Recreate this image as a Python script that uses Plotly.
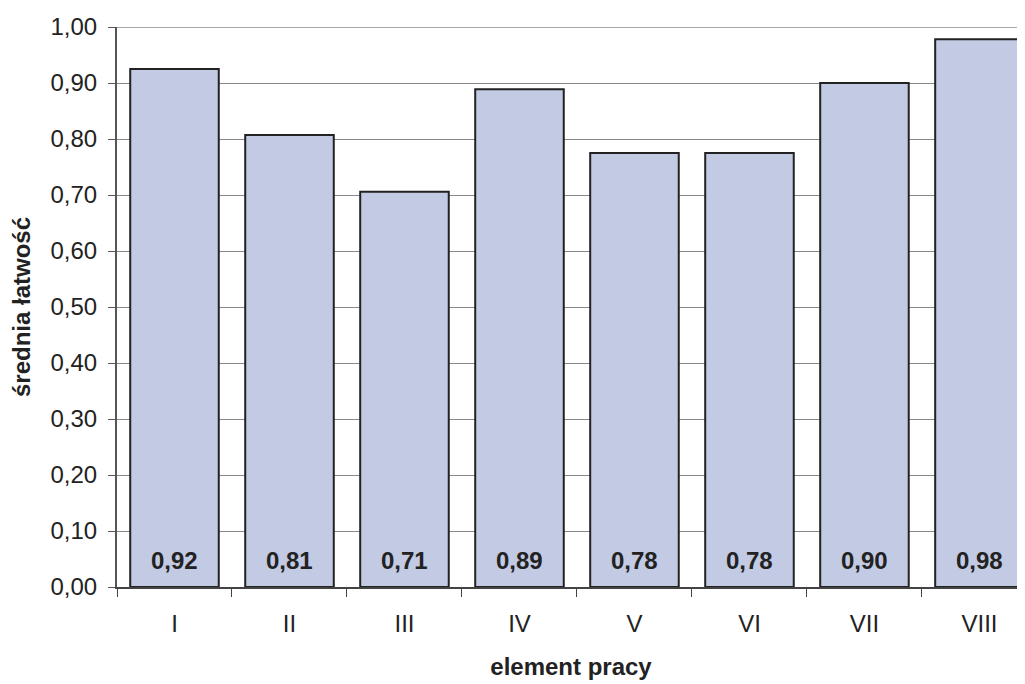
import plotly.graph_objects as go

# Data
categories = ['I', 'II', 'III', 'IV', 'V', 'VI', 'VII', 'VIII']
values = [0.925, 0.807, 0.706, 0.889, 0.775, 0.775, 0.900, 0.978]
value_labels = ['0,92', '0,81', '0,71', '0,89', '0,78', '0,78', '0,90', '0,98']
y_ticks = [i / 10 for i in range(11)]
y_tick_labels = [('%.2f' % t).replace('.', ',') for t in y_ticks]

font_family = 'Liberation Sans, Arial, sans-serif'

fig = go.Figure()

fig.add_trace(go.Bar(
    x=categories,
    y=values,
    width=0.77,
    marker=dict(color='#C3CAE3', line=dict(color='#222222', width=2)),
    hoverinfo='skip',
))

# value labels near the base of each bar
for cat, lab in zip(categories, value_labels):
    fig.add_annotation(
        x=cat, y=0, text='<b>%s</b>' % lab,
        showarrow=False, yanchor='bottom', yshift=11,
        font=dict(family=font_family, size=24, color='#222222'),
    )

# page body has an 8px margin, so the figure is a bit smaller
fig.update_layout(
    width=1017,
    height=676,
    margin=dict(l=109, r=0, t=19, b=97),
    plot_bgcolor='white',
    paper_bgcolor='white',
    showlegend=False,
    font=dict(family=font_family, size=24, color='#222222'),
    xaxis=dict(
        range=[-0.5, 7.396],
        showgrid=False,
        showline=True,
        linecolor='#444444',
        linewidth=2,
        ticks='outside',
        tickson='boundaries',
        ticklen=8,
        tickcolor='#444444',
        tickfont=dict(size=24),
        ticklabelstandoff=14,
        title=dict(text='<b>element pracy</b>', font=dict(size=24), standoff=22),
    ),
    yaxis=dict(
        range=[0, 1.0],
        tickvals=y_ticks,
        ticktext=y_tick_labels,
        showgrid=True,
        gridcolor='#888888',
        gridwidth=1,
        showline=True,
        linecolor='#555555',
        linewidth=2,
        ticks='outside',
        ticklen=7,
        tickcolor='#555555',
        tickfont=dict(size=24),
        ticklabelstandoff=6,
        zeroline=False,
        title=dict(text='<b>średnia łatwość</b>', font=dict(size=24), standoff=14),
    ),
)

# top border line at 1,00
fig.add_shape(type='line', xref='paper', yref='y', x0=0, x1=1, y0=1.0, y1=1.0,
              line=dict(color='#ADA4A4', width=2))

fig.write_html("out.html")
